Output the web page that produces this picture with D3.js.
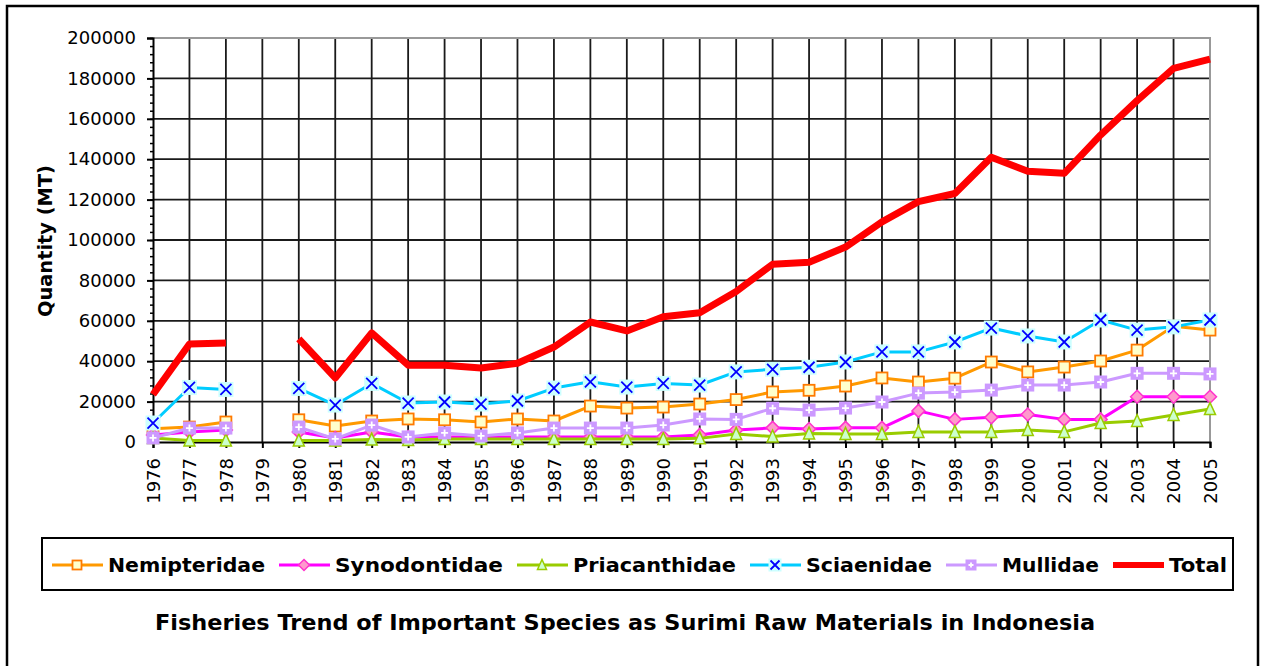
<!DOCTYPE html>
<html>
<head>
<meta charset="utf-8">
<script src="https://cdn.jsdelivr.net/npm/d3@7"></script>
<style>
  html, body { margin: 0; padding: 0; background: #fff; }
  svg { display: block; font-family: "DejaVu Sans", Verdana, sans-serif; }
</style>
</head>
<body>
<svg id="chart" width="1261" height="666"></svg>
<script>
// categories (1979 has no data)
const years = ['1976', '1977', '1978', '1979', '1980', '1981', '1982', '1983', '1984', '1985',
    '1986', '1987', '1988', '1989', '1990', '1991', '1992', '1993', '1994', '1995',
    '1996', '1997', '1998', '1999', '2000', '2001', '2002', '2003', '2004', '2005'];

const nemipteridae = [6500, 7400, 9900, null, 11000, 7900, 10400, 11400, 11000, 9900,
    11400, 10400, 17800, 16800, 17300, 18800, 21000, 24800, 25600, 27700,
    31700, 29700, 31600, 39600, 34700, 37100, 40100, 45500, 57300, 55400];

const synodontidae = [3500, 5000, 5900, null, 5000, 2000, 5000, 2500, 2500, 2500,
    2500, 2500, 2500, 2500, 2500, 3500, 5900, 7000, 6400, 7000,
    7000, 15400, 11200, 12200, 13600, 11200, 11200, 22400, 22400, 22400];

const priacanthidae = [2000, 800, 800, null, 800, 800, 1200, 1000, 1500, 1500,
    1500, 1500, 1500, 1500, 1500, 1800, 4000, 2700, 4200, 4000,
    4000, 5000, 5000, 5000, 5900, 5000, 9400, 10400, 13400, 16300];

const sciaenidae = [9400, 27000, 26000, null, 26500, 18300, 29000, 19300, 19800, 18800,
    20300, 26700, 29800, 27200, 29000, 28200, 34700, 36000, 37000, 39600,
    44600, 44600, 49500, 56400, 52500, 49500, 60400, 55400, 57000, 60400];

const mullidae = [2000, 6900, 6900, null, 7400, 1500, 8400, 2500, 4500, 3000,
    4500, 6900, 6900, 6900, 8400, 11400, 11200, 16700, 15800, 16800,
    19800, 24200, 24700, 25700, 28200, 28200, 29700, 34000, 34000, 33700];

const total = [23500, 48500, 49000, null, 51000, 31700, 54000, 38000, 38000, 36600,
    39000, 47000, 59400, 55000, 62000, 64000, 74500, 88000, 89000, 96500,
    109000, 119000, 123000, 141000, 134000, 133000, 152000, 169000, 185000, 189500];

const seriesNames = ['Nemipteridae', 'Synodontidae', 'Priacanthidae', 'Sciaenidae', 'Mullidae', 'Total'];
const yTicks = [0, 20000, 40000, 60000, 80000, 100000, 120000, 140000, 160000, 180000, 200000];

const chartTitle = 'Fisheries Trend of Important Species as Surimi Raw Materials in Indonesia';
const yTitle = 'Quantity (MT)';

// series styling
const styles = {
    Nemipteridae: { line: '#ff9900', width: 3, marker: 'square', fill: '#ffffcc', stroke: '#ff7a00' },
    Synodontidae: { line: '#ff00ff', width: 3, marker: 'diamond', fill: '#ff99cc', stroke: '#ff33cc' },
    Priacanthidae: { line: '#99cc00', width: 3, marker: 'triangle', fill: '#ccffcc', stroke: '#99cc00' },
    Sciaenidae: { line: '#00ccff', width: 3, marker: 'times', fill: '#ccffff', stroke: '#0000ff' },
    Mullidae: { line: '#cc99ff', width: 3, marker: 'plus', fill: '#cc99ff', stroke: '#ffffff' },
    Total: { line: '#ff0000', width: 7, marker: null }
};
const seriesValues = [nemipteridae, synodontidae, priacanthidae, sciaenidae, mullidae, total];

const svg = d3.select('#chart');
const plot = { left: 153, right: 1210, top: 38, bottom: 442 };

const x = d3.scalePoint().domain(years).range([plot.left, plot.right]);
const y = d3.scaleLinear().domain([0, 200000]).range([plot.bottom, plot.top]);

// outer frame
svg.append('rect')
    .attr('x', 7).attr('y', 6)
    .attr('width', 1251).attr('height', 670)
    .attr('fill', '#fff')
    .attr('stroke', '#000')
    .attr('stroke-width', 2.5);

// gridlines
const grid = svg.append('g').attr('class', 'grid');
grid.selectAll('.hgrid')
    .data(yTicks.filter(v => v > 0 && v < 200000))
    .enter().append('line')
    .attr('x1', plot.left).attr('x2', plot.right)
    .attr('y1', d => y(d)).attr('y2', d => y(d))
    .attr('stroke', '#1a1a1a').attr('stroke-width', 1.8);
grid.selectAll('.vgrid')
    .data(years.slice(1, -1))
    .enter().append('line')
    .attr('x1', d => x(d)).attr('x2', d => x(d))
    .attr('y1', plot.top).attr('y2', plot.bottom)
    .attr('stroke', '#1a1a1a').attr('stroke-width', 1.8);

// plot border (grey top & right)
svg.append('path')
    .attr('d', `M${plot.left},${plot.top}H${plot.right}V${plot.bottom}`)
    .attr('fill', 'none')
    .attr('stroke', '#999')
    .attr('stroke-width', 2);

// y axis minor ticks
svg.append('g')
    .attr('transform', `translate(${plot.left},0)`)
    .call(d3.axisLeft(y).tickValues(d3.range(0, 200001, 4000)).tickSize(3).tickFormat(''))
    .call(g => g.select('.domain').remove())
    .selectAll('line').attr('stroke', '#000').attr('stroke-width', 1.5);

// y axis
const yAxis = svg.append('g')
    .attr('transform', `translate(${plot.left},0)`)
    .call(d3.axisLeft(y).tickValues(yTicks).tickSize(6).tickPadding(11).tickFormat(d3.format('d')));
yAxis.select('.domain').attr('stroke', '#000').attr('stroke-width', 2);
yAxis.selectAll('line').attr('stroke', '#000').attr('stroke-width', 2);
yAxis.selectAll('text')
    .attr('font-family', '"DejaVu Sans", Verdana, sans-serif')
    .attr('font-size', 18)
    .attr('fill', '#000');

// x axis
const xAxis = svg.append('g')
    .attr('transform', `translate(0,${plot.bottom})`)
    .call(d3.axisBottom(x).tickSize(6).tickPadding(0));
xAxis.select('.domain').attr('stroke', '#000').attr('stroke-width', 2);
xAxis.selectAll('line').attr('stroke', '#000').attr('stroke-width', 2);
xAxis.selectAll('text')
    .attr('font-family', '"DejaVu Sans", Verdana, sans-serif')
    .attr('font-size', 18)
    .attr('fill', '#000')
    .attr('text-anchor', 'end')
    .attr('transform', 'rotate(-90)')
    .attr('x', -16)
    .attr('y', 0)
    .attr('dy', '0.35em');

// y title
svg.append('text')
    .attr('transform', 'translate(52,241) rotate(-90)')
    .attr('text-anchor', 'middle')
    .attr('font-size', 19)
    .attr('font-weight', 'bold')
    .attr('textLength', 152)
    .attr('lengthAdjust', 'spacingAndGlyphs')
    .text(yTitle);

// markers
function drawMarker(g, type, st, size) {
    const h = size / 2;
    if (type === 'square') {
        g.append('rect').attr('x', -h).attr('y', -h).attr('width', size).attr('height', size)
            .attr('fill', st.fill).attr('stroke', st.stroke).attr('stroke-width', 1.8);
    } else if (type === 'diamond') {
        g.append('path').attr('d', `M0,${-h - 1}L${h + 1},0L0,${h + 1}L${-h - 1},0Z`)
            .attr('fill', st.fill).attr('stroke', st.stroke).attr('stroke-width', 1.5);
    } else if (type === 'triangle') {
        g.append('path').attr('d', `M0,${-h - 1}L${h},${h}L${-h},${h}Z`)
            .attr('fill', st.fill).attr('stroke', st.stroke).attr('stroke-width', 1.5);
    } else if (type === 'times') {
        g.append('rect').attr('x', -h - 2).attr('y', -h - 2).attr('width', size + 4).attr('height', size + 4)
            .attr('fill', st.fill);
        g.append('path').attr('d', `M${-h},${-h}L${h},${h}M${h},${-h}L${-h},${h}`)
            .attr('stroke', st.stroke).attr('stroke-width', 1.8);
    } else if (type === 'plus') {
        g.append('rect').attr('x', -h - 1).attr('y', -h - 1).attr('width', size + 2).attr('height', size + 2)
            .attr('fill', st.fill);
        g.append('path').attr('d', `M0,${-h + 2}V${h - 2}M${-h + 2},0H${h - 2}`)
            .attr('stroke', st.stroke).attr('stroke-width', 1.8);
    }
}

const line = d3.line()
    .defined(d => d.v !== null)
    .x(d => x(d.year))
    .y(d => y(d.v));

seriesNames.forEach((name, i) => {
    const st = styles[name];
    const pts = years.map((yr, j) => ({ year: yr, v: seriesValues[i][j] }));
    const g = svg.append('g').attr('class', 'series');
    g.append('path')
        .datum(pts)
        .attr('d', line)
        .attr('fill', 'none')
        .attr('stroke', st.line)
        .attr('stroke-width', st.width)
        .attr('stroke-linejoin', 'round');
    if (st.marker) {
        pts.filter(p => p.v !== null).forEach(p => {
            const m = g.append('g').attr('transform', `translate(${x(p.year)},${y(p.v)})`);
            drawMarker(m, st.marker, st, 11);
        });
    }
});

// legend
const legend = svg.append('g');
legend.append('rect')
    .attr('x', 42).attr('y', 538)
    .attr('width', 1191).attr('height', 52)
    .attr('fill', '#fff')
    .attr('stroke', '#000')
    .attr('stroke-width', 2);

const legendTextWidths = [157, 168, 163, 126, 97, 58];
let lx = 52;
seriesNames.forEach((name, i) => {
    const st = styles[name];
    const cy = 565;
    legend.append('line')
        .attr('x1', lx).attr('x2', lx + 51)
        .attr('y1', cy).attr('y2', cy)
        .attr('stroke', st.line)
        .attr('stroke-width', st.width === 7 ? 6 : 3);
    if (st.marker) {
        const m = legend.append('g').attr('transform', `translate(${lx + 25},${cy})`);
        drawMarker(m, st.marker, st, 9);
    }
    legend.append('text')
        .attr('x', lx + 56).attr('y', cy)
        .attr('dy', '0.36em')
        .attr('font-size', 19)
        .attr('font-weight', 'bold')
        .attr('textLength', legendTextWidths[i])
        .attr('lengthAdjust', 'spacingAndGlyphs')
        .text(name);
    lx += 56 + legendTextWidths[i] + 14;
});

// chart title
svg.append('text')
    .attr('x', 625).attr('y', 630)
    .attr('text-anchor', 'middle')
    .attr('font-size', 21)
    .attr('font-weight', 'bold')
    .attr('textLength', 940)
    .attr('lengthAdjust', 'spacingAndGlyphs')
    .text(chartTitle);
</script>
</body>
</html>
